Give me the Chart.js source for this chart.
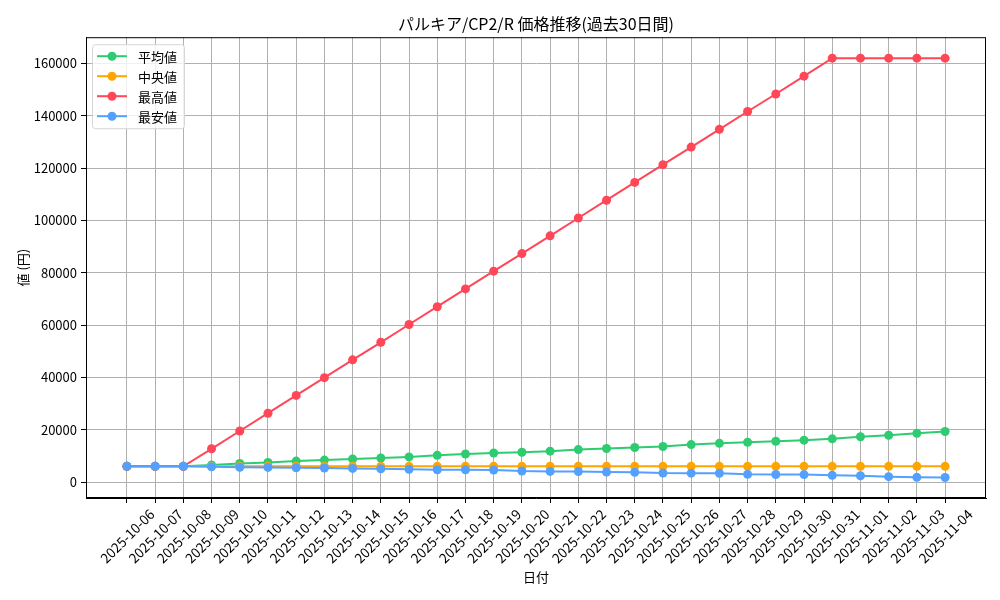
<!DOCTYPE html>
<html lang="ja">
<head>
<meta charset="utf-8">
<title>パルキア/CP2/R 価格推移</title>
<script src="https://cdn.jsdelivr.net/npm/chart.js@4.4.1/dist/chart.umd.min.js"></script>
<style>
  html, body { margin: 0; padding: 0; background: #fff; }
  #wrap { width: 1000px; height: 600px; }
</style>
</head>
<body>
<div id="wrap"><canvas id="priceChart" width="1000" height="600"></canvas></div>
<script>
const dates = [
  '2025-10-06', '2025-10-07', '2025-10-08', '2025-10-09', '2025-10-10',
  '2025-10-11', '2025-10-12', '2025-10-13', '2025-10-14', '2025-10-15',
  '2025-10-16', '2025-10-17', '2025-10-18', '2025-10-19', '2025-10-20',
  '2025-10-21', '2025-10-22', '2025-10-23', '2025-10-24', '2025-10-25',
  '2025-10-26', '2025-10-27', '2025-10-28', '2025-10-29', '2025-10-30',
  '2025-10-31', '2025-11-01', '2025-11-02', '2025-11-03', '2025-11-04'
];

const avgPrices = [
  6000, 6000, 6000, 6500, 7100, 7500, 8000, 8400, 8800, 9200,
  9600, 10200, 10700, 11100, 11400, 11800, 12400, 12800, 13200, 13600,
  14300, 14800, 15200, 15600, 16000, 16500, 17300, 17900, 18600, 19300
];
const medianPrices = [
  6000, 6000, 6000, 6000, 6000, 6000, 6000, 6000, 6000, 6000,
  6000, 6000, 6000, 6000, 6000, 6000, 6000, 6000, 6000, 6000,
  6000, 6000, 6000, 6000, 6000, 6000, 6000, 6000, 6000, 6000
];
const maxPrices = [
  6000, 6000, 6000, 12700, 19500, 26300, 33100, 39900, 46700, 53400,
  60200, 67000, 73800, 80600, 87300, 94100, 100900, 107700, 114500, 121300,
  128000, 134800, 141600, 148300, 155100, 162000, 162000, 162000, 162000, 162000
];
const minPrices = [
  6000, 6000, 6000, 5800, 5650, 5600, 5450, 5350, 5200, 5050,
  4900, 4700, 4650, 4600, 4200, 4050, 4000, 3800, 3750, 3450,
  3400, 3350, 2950, 2900, 2850, 2550, 2400, 2050, 1800, 1750
];

const yTicks = [0, 20000, 40000, 60000, 80000, 100000, 120000, 140000, 160000];

const seriesNames = ['平均値', '中央値', '最高値', '最安値'];
const seriesColors = ['#2ecc71', '#ffa502', '#ff4757', '#54a0ff'];
const seriesData = [avgPrices, medianPrices, maxPrices, minPrices];

const FONT = '"Noto Sans CJK JP", "Noto Sans", sans-serif';

// matplotlib風の枠線と凡例（グラフ内左上）
const framePlugin = {
  id: 'frame',
  afterDatasetsDraw(chart) {
    const { ctx, chartArea: a } = chart;
    ctx.save();
    ctx.strokeStyle = '#000';
    ctx.lineWidth = 1;
    ctx.strokeRect(a.left + 0.5, a.top + 0.5, a.right - a.left - 1, a.bottom - a.top - 1);

    const bx = a.left + 6, by = a.top + 7, bw = 92, bh = 84;
    ctx.fillStyle = 'rgba(255,255,255,0.8)';
    ctx.strokeStyle = '#d6d6d6';
    ctx.beginPath();
    ctx.roundRect(bx + 0.5, by + 0.5, bw, bh, 3);
    ctx.fill();
    ctx.stroke();

    ctx.font = '13px ' + FONT;
    ctx.textBaseline = 'middle';
    seriesNames.forEach((name, i) => {
      const y = by + 12 + i * 20;
      ctx.strokeStyle = seriesColors[i];
      ctx.lineWidth = 2;
      ctx.beginPath();
      ctx.moveTo(bx + 5, y);
      ctx.lineTo(bx + 35, y);
      ctx.stroke();
      ctx.fillStyle = seriesColors[i];
      ctx.beginPath();
      ctx.arc(bx + 20, y, 4.5, 0, Math.PI * 2);
      ctx.fill();
      ctx.fillStyle = '#000';
      ctx.fillText(name, bx + 46, y + 1);
    });
    ctx.restore();
  }
};

const datasets = seriesNames.map((name, i) => ({
  label: name,
  data: seriesData[i].map((v, idx) => ({ x: idx, y: v })),
  borderColor: seriesColors[i],
  backgroundColor: seriesColors[i],
  pointBackgroundColor: seriesColors[i],
  pointBorderWidth: 0,
  pointRadius: 4.5,
  borderWidth: 2,
  tension: 0,
  order: seriesNames.length - i
}));

new Chart(document.getElementById('priceChart'), {
  type: 'line',
  data: { datasets },
  plugins: [framePlugin],
  options: {
    responsive: false,
    animation: false,
    layout: { padding: { left: 0, right: 14, top: 0, bottom: 0 } },
    plugins: {
      legend: { display: false },
      tooltip: { enabled: false },
      title: {
        display: true,
        text: 'パルキア/CP2/R 価格推移(過去30日間)',
        color: '#000',
        fullSize: false,
        font: { family: FONT, size: 16, weight: 'normal' },
        padding: { top: 14, bottom: 4 }
      }
    },
    scales: {
      x: {
        type: 'linear',
        min: -1.45,
        max: dates.length - 1 + 1.45,
        afterBuildTicks(scale) {
          scale.ticks = dates.map((d, i) => ({ value: i }));
        },
        afterFit(scale) { scale.height = 102; },
        ticks: {
          autoSkip: false,
          minRotation: 45,
          maxRotation: 45,
          padding: 3,
          labelOffset: 25,
          color: '#000',
          font: { family: FONT, size: 13.5 },
          callback: (v) => dates[v]
        },
        grid: { color: '#b0b0b0', lineWidth: 1, tickColor: '#000', tickLength: 5 },
        border: { color: '#000', width: 1 },
        title: {
          display: true,
          text: '日付',
          color: '#000',
          font: { family: FONT, size: 13 },
          padding: { top: 0, bottom: 15 }
        }
      },
      y: {
        min: -6100,
        max: 170000,
        afterBuildTicks(scale) {
          scale.ticks = yTicks.map(v => ({ value: v }));
        },
        afterFit(scale) { scale.width = 86; },
        ticks: {
          padding: 4,
          color: '#000',
          font: { family: FONT, size: 13 },
          callback: (v) => String(v)
        },
        grid: { color: '#b0b0b0', lineWidth: 1, tickColor: '#000', tickLength: 5 },
        border: { color: '#000', width: 1 },
        title: {
          display: true,
          text: '値 (円)',
          color: '#000',
          font: { family: FONT, size: 13 },
          padding: { top: 15, bottom: 0 }
        }
      }
    }
  }
});
</script>
</body>
</html>
